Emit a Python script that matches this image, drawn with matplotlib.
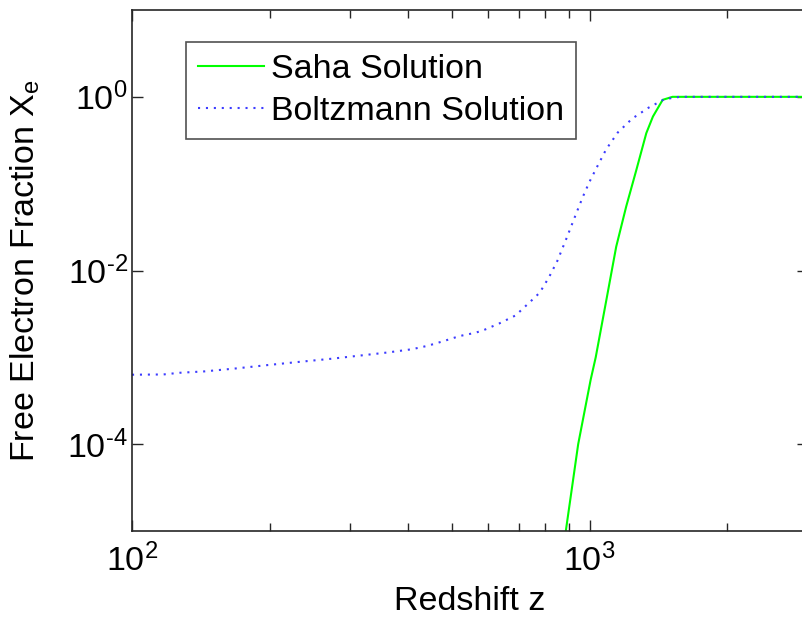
import math

import matplotlib

matplotlib.use("Agg")
import matplotlib.pyplot as plt
from matplotlib.ticker import FixedLocator, FuncFormatter, NullFormatter

# Saha equilibrium ionization fraction vs redshift
saha_z = [870, 887, 944, 1005, 1031, 1088, 1143, 1202, 1265, 1330, 1375,
          1444, 1517, 2000, 3000]
saha_xe = [6.0e-6, 1.0e-5, 1.0e-4, 5.5e-4, 1.0e-3, 4.6e-3, 1.88e-2,
           5.46e-2, 0.144, 0.382, 0.593, 0.923, 1.0, 1.0, 1.0]

# Boltzmann (non-equilibrium) solution
boltz_z = [100, 117, 127, 144, 169, 198, 233, 273, 321, 363, 409, 443, 480,
           520, 563, 587, 635, 689, 746, 778, 815, 850, 893, 935, 967, 1000,
           1043, 1087, 1152, 1239, 1347, 1458, 1574, 3000]
boltz_xe = [6.31e-4, 6.35e-4, 6.64e-4, 6.89e-4, 7.46e-4, 8.15e-4, 8.89e-4,
            9.64e-4, 1.06e-3, 1.14e-3, 1.24e-3, 1.36e-3, 1.54e-3, 1.76e-3,
            1.92e-3, 2.06e-3, 2.46e-3, 3.04e-3, 4.50e-3, 5.56e-3, 8.36e-3,
            1.29e-2, 2.45e-2, 4.56e-2, 7.11e-2, 0.106, 0.164, 0.249, 0.388,
            0.562, 0.753, 0.94, 1.0, 1.0]

x_major = [100, 1000]
x_minor = [200, 300, 400, 500, 600, 700, 800, 900, 2000, 3000]
y_major = [1e-4, 1e-2, 1e0]

plt.rcParams["font.family"] = ["Liberation Sans", "DejaVu Sans"]
plt.rcParams["mathtext.fontset"] = "custom"
plt.rcParams["mathtext.rm"] = "Liberation Sans"
plt.rcParams["mathtext.it"] = "Liberation Sans"

FS = 24.5


def pow10_label(value, pos):
    exp = int(round(math.log10(value)))
    if exp < 0:
        return r"$10^{\text{-}%d}$" % (-exp)
    return r"$10^{%d}$" % exp


fig = plt.figure(figsize=(8.03, 6.21), dpi=100)
ax = fig.add_axes([0.1644, 0.1449, 0.8418, 0.8390])

ax.plot(saha_z, saha_xe, color="#00ff00", linewidth=1.5, label="Saha Solution")
ax.plot(boltz_z, boltz_xe, color="#3c3cff", linewidth=1.5,
        linestyle=(0, (1, 2.8)), dash_capstyle="butt",
        label="Boltzmann Solution")

ax.set_xscale("log")
ax.set_yscale("log")
ax.set_xlim(100, 3000)
ax.set_ylim(1e-5, 1e1)

ax.xaxis.set_major_locator(FixedLocator(x_major))
ax.xaxis.set_minor_locator(FixedLocator(x_minor))
ax.xaxis.set_major_formatter(FuncFormatter(pow10_label))
ax.xaxis.set_minor_formatter(NullFormatter())
ax.yaxis.set_major_locator(FixedLocator(y_major))
ax.yaxis.set_minor_locator(FixedLocator([]))
ax.yaxis.set_major_formatter(FuncFormatter(pow10_label))
ax.yaxis.set_minor_formatter(NullFormatter())

ax.tick_params(which="both", direction="in", top=True, right=True,
               labelsize=FS, colors="#262626", labelcolor="black", width=1.0)
ax.tick_params(which="major", length=8)
ax.tick_params(axis="x", which="major", pad=9)
ax.tick_params(axis="y", which="major", pad=3)
ax.tick_params(which="minor", length=6)
for spine in ax.spines.values():
    spine.set_color("#262626")
    spine.set_linewidth(1.2)

ax.set_xlabel("Redshift z", fontsize=FS, labelpad=6)
ax.set_ylabel("Free Electron Fraction X$_e$", fontsize=FS, labelpad=18)

leg = ax.legend(loc="upper left", bbox_to_anchor=(0.0799, 0.9386),
                borderaxespad=0, fontsize=FS, frameon=True, fancybox=False,
                handlelength=1.94, handletextpad=0.2, labelspacing=0.32,
                borderpad=0.36)
leg.get_frame().set_edgecolor("#262626")
leg.get_frame().set_linewidth(1.2)

fig.savefig("out.png", dpi=100)
